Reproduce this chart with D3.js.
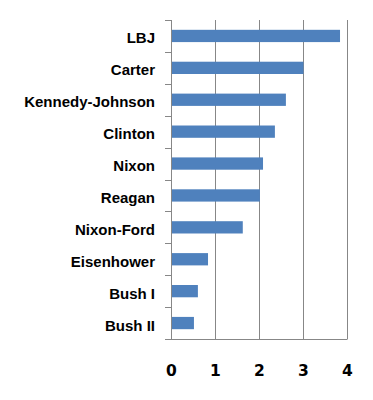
<!DOCTYPE html>
<html>
<head>
<meta charset="utf-8">
<script src="https://cdn.jsdelivr.net/npm/d3@7"></script>
<style>
  html, body { margin: 0; padding: 0; background: #fff; }
  svg { display: block; }
</style>
</head>
<body>
<svg id="chart" width="373" height="400"></svg>
<script>
const categories = ["LBJ", "Carter", "Kennedy-Johnson", "Clinton", "Nixon", "Reagan", "Nixon-Ford", "Eisenhower", "Bush I", "Bush II"];
const values = [3.83, 3.0, 2.6, 2.35, 2.08, 2.01, 1.62, 0.83, 0.6, 0.51];
const tickValues = [0, 1, 2, 3, 4];

const svg = d3.select("#chart");
const x = d3.scaleLinear().domain([0, 4]).range([171.5, 347.5]);
const y = d3.scaleBand().domain(categories).range([20, 339]).paddingInner(0.615).paddingOuter(0.3075);
const step = y.step();
const gridColor = "#878787";

// vertical gridlines
svg.append("g").selectAll("line").data(tickValues.slice(1)).join("line")
  .attr("x1", d => x(d)).attr("x2", d => x(d))
  .attr("y1", 20).attr("y2", 339)
  .attr("stroke", gridColor).attr("stroke-width", 1);

// left axis line
svg.append("line")
  .attr("x1", x(0)).attr("x2", x(0)).attr("y1", 20).attr("y2", 339.5)
  .attr("stroke", gridColor);

// category tick marks (band boundaries)
const bounds = d3.range(categories.length + 1).map(i => 20 + i * step);
svg.append("g").selectAll("line").data(bounds).join("line")
  .attr("x1", 165).attr("x2", x(0))
  .attr("y1", d => Math.round(d) + 0.5).attr("y2", d => Math.round(d) + 0.5)
  .attr("stroke", gridColor);

// bottom axis line
svg.append("line")
  .attr("x1", 165).attr("x2", x(4)).attr("y1", 339.5).attr("y2", 339.5)
  .attr("stroke", gridColor);

// bars
svg.append("g").selectAll("rect").data(categories).join("rect")
  .attr("x", x(0) + 0.5)
  .attr("y", d => y(d))
  .attr("width", (d, i) => x(values[i]) - x(0) - 0.5)
  .attr("height", y.bandwidth())
  .attr("fill", "#4f81bd");

// category labels
svg.append("g").selectAll("text").data(categories).join("text")
  .attr("x", 155)
  .attr("y", d => y(d) + y.bandwidth() / 2 + 7.5)
  .attr("text-anchor", "end")
  .attr("font-family", "'Liberation Sans', Arial, sans-serif")
  .attr("font-weight", "bold")
  .attr("font-size", "15px")
  .attr("fill", "#000")
  .text(d => d);

// x tick labels
svg.append("g").selectAll("text").data(tickValues).join("text")
  .attr("x", d => x(d))
  .attr("y", 376)
  .attr("text-anchor", "middle")
  .attr("font-family", "'DejaVu Sans', Verdana, sans-serif")
  .attr("font-weight", "bold")
  .attr("font-size", "15.5px")
  .attr("fill", "#000")
  .text(d => d);
</script>
</body>
</html>
